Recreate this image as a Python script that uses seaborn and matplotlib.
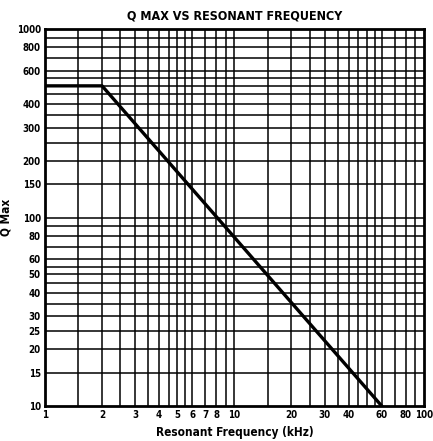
import matplotlib
matplotlib.use("Agg")
import matplotlib.pyplot as plt
import seaborn as sns
import pandas as pd
from matplotlib.ticker import FixedLocator, NullLocator

# curve
freq_khz = [1, 2, 60]
q_max = [500, 500, 10]

# grid and tick positions
x_grid = [1, 1.5, 2, 2.5, 3, 3.5, 4, 4.5, 5, 5.5, 6, 7, 8, 9, 10,
          15, 20, 25, 30, 35, 40, 45, 50, 55, 60, 70, 80, 90, 100]
y_grid = [10, 15, 20, 25, 30, 35, 40, 45, 50, 55, 60, 70, 80, 90, 100,
          150, 200, 250, 300, 350, 400, 450, 500, 550, 600, 700, 800, 900, 1000]
x_labels = [1, 2, 3, 4, 5, 6, 7, 8, 10, 20, 30, 40, 60, 80, 100]
y_labels = [10, 15, 20, 25, 30, 40, 50, 60, 80, 100, 150, 200, 300, 400, 600, 800, 1000]

sns.set_style("white", {"text.color": "black", "axes.labelcolor": "black",
                        "xtick.color": "black", "ytick.color": "black"})
font = dict(family="DejaVu Sans", fontstretch="condensed", fontweight="bold")

fig = plt.figure(figsize=(4.33, 4.41), dpi=100)
ax = fig.add_axes([0.104, 0.079, 0.875, 0.855])

df = pd.DataFrame({"f": freq_khz, "q": q_max})
sns.lineplot(data=df, x="f", y="q", ax=ax, color="black", linewidth=2.4, zorder=5)

ax.set_xscale("log")
ax.set_yscale("log")
ax.set_xlim(1, 100)
ax.set_ylim(10, 1000)

for v in x_grid[1:-1]:
    ax.axvline(v, color="black", linewidth=1.1, zorder=1)
for v in y_grid[1:-1]:
    ax.axhline(v, color="black", linewidth=1.1, zorder=1)

ax.xaxis.set_major_locator(FixedLocator(x_labels))
ax.xaxis.set_minor_locator(NullLocator())
ax.yaxis.set_major_locator(FixedLocator(y_labels))
ax.yaxis.set_minor_locator(NullLocator())
ax.set_xticklabels([str(v) for v in x_labels], fontsize=7, color="black", **font)
ax.set_yticklabels([str(v) for v in y_labels], fontsize=7, color="black", **font)
ax.tick_params(length=0, pad=3)

for s in ax.spines.values():
    s.set_color("black")
    s.set_linewidth(2)

ax.set_xlabel("Resonant Frequency (kHz)", fontsize=8.5, labelpad=4, color="black", **font)
ax.set_ylabel("Q Max", fontsize=8.5, labelpad=2, color="black", **font)
ax.yaxis.set_label_coords(-0.085, 0.5)
ax.set_title("Q MAX VS RESONANT FREQUENCY", fontsize=9, pad=7, color="black", **font)

fig.savefig("out.png", dpi=100)
